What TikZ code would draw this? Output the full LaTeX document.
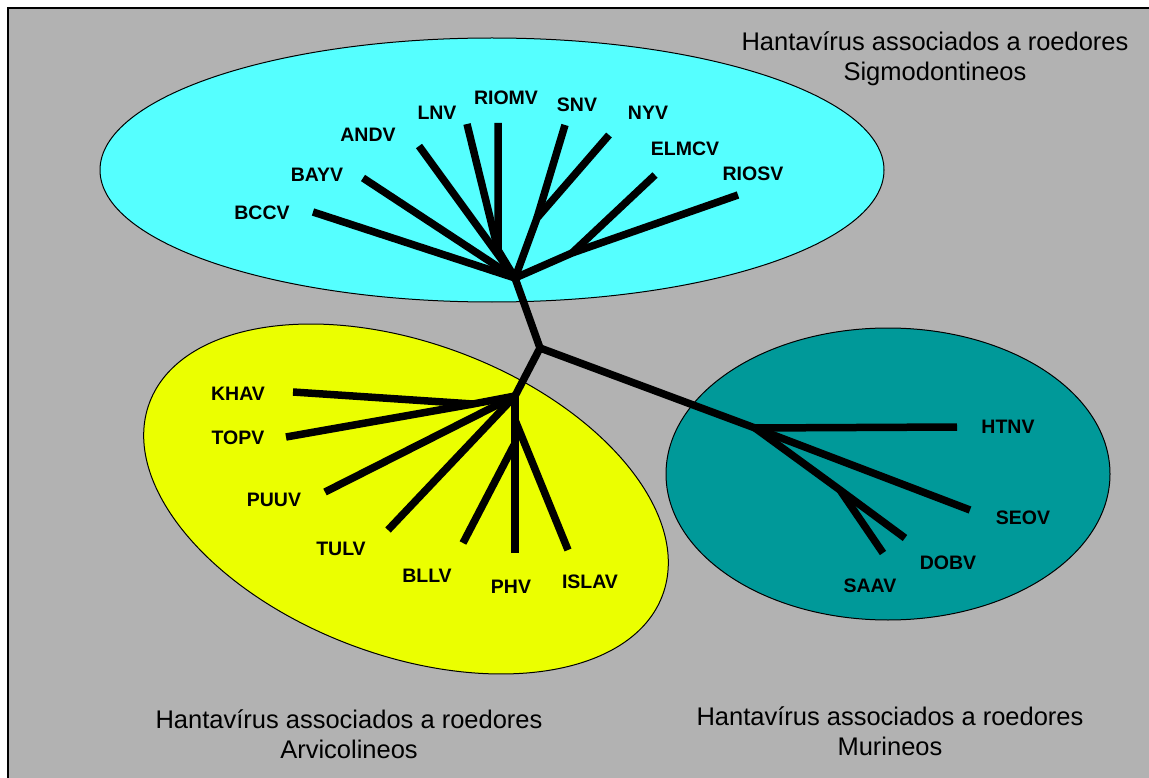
\documentclass[tikz,border=0pt]{standalone}
\usepackage{fontspec}
\setmainfont{Liberation Sans}
\definecolor{bggray}{RGB}{178,178,178}
\definecolor{cyanfill}{RGB}{85,255,255}
\definecolor{yellowfill}{RGB}{235,255,0}
\definecolor{tealfill}{RGB}{0,153,153}
\tikzset{
  branch/.style={line width=7.5pt, line join=round, line cap=butt},
  blob/.style={draw=black, line width=1pt},
  leaflabel/.style={font=\fontsize{19.5}{22}\selectfont\bfseries, inner sep=0pt},
  grouptitle/.style={font=\fontsize{25.5}{30}\selectfont, align=center, inner sep=0pt}
}
\begin{document}
\begin{tikzpicture}[x=1pt,y=-1pt]
\useasboundingbox (0,0) rectangle (1149,778);
\fill[white] (0,0) rectangle (1149,778);
\fill[bggray] (8,8) rectangle (1170,800);
\draw[line width=2.5pt] (8,800) -- (8,8) -- (1170,8);

% ellipses
\draw[blob, fill=cyanfill] (492,170) ellipse [x radius=392, y radius=132];
\draw[blob, fill=yellowfill, rotate around={-20.6:(406,499)}] (406,499) ellipse [x radius=274, y radius=156];
\draw[blob, fill=tealfill] (888,474) ellipse [x radius=222, y radius=146];

% backbone
\coordinate (root) at (540,348);
\coordinate (chub) at (515,278);
\coordinate (yhub) at (515,396);
\coordinate (thub) at (755,428);
\draw[branch] (chub) -- (root) -- (yhub);
\draw[branch] (root) -- (thub);

% cyan clade
\coordinate (BCCVe) at (313,212);
\coordinate (BAYVe) at (363,178);
\coordinate (ANDVe) at (419,146);
\coordinate (LNVe) at (467,124);
\coordinate (RIOMVe) at (498,123);
\coordinate (SNVe) at (565,125);
\coordinate (NYVe) at (609,135);
\coordinate (ELMCVe) at (655,175);
\coordinate (RIOSVe) at (738,195);
\coordinate (cLR) at (498,250);
\coordinate (cSN) at (537,218);
\coordinate (cER) at (572,253);
\draw[branch] (BCCVe) -- (chub);
\draw[branch] (BAYVe) -- (chub);
\draw[branch] (ANDVe) -- (chub);
\draw[branch] (LNVe) -- (cLR);
\draw[branch] (RIOMVe) -- (cLR) -- (chub);
\draw[branch] (SNVe) -- (cSN);
\draw[branch] (NYVe) -- (cSN) -- (chub);
\draw[branch] (ELMCVe) -- (cER);
\draw[branch] (RIOSVe) -- (cER) -- (chub);

\node[leaflabel] (BCCV) at (262,213) {BCCV};
\node[leaflabel] (BAYV) at (317,175) {BAYV};
\node[leaflabel] (ANDV) at (368,135) {ANDV};
\node[leaflabel] (LNV) at (437,113) {LNV};
\node[leaflabel] (RIOMV) at (506,98) {RIOMV};
\node[leaflabel] (SNV) at (577,105) {SNV};
\node[leaflabel] (NYV) at (648,113) {NYV};
\node[leaflabel] (ELMCV) at (685,149) {ELMCV};
\node[leaflabel] (RIOSV) at (753,174) {RIOSV};

% yellow clade
\coordinate (KHAVe) at (293,392);
\coordinate (TOPVe) at (286,437);
\coordinate (PUUVe) at (325,492);
\coordinate (TULVe) at (388,530);
\coordinate (BLLVe) at (463,543);
\coordinate (PHVe) at (515,553);
\coordinate (ISLAVe) at (568,550);
\coordinate (yKT) at (473,404);
\coordinate (yPH) at (515,420);
\coordinate (yBL) at (514,445);
\draw[branch] (KHAVe) -- (yKT);
\draw[branch] (TOPVe) -- (yKT) -- (yhub);
\draw[branch] (PUUVe) -- (yhub);
\draw[branch] (TULVe) -- (yhub);
\draw[branch] (BLLVe) -- (yBL);
\draw[branch] (PHVe) -- (yhub);
\draw[branch] (ISLAVe) -- (yPH);

\node[leaflabel] (KHAV) at (238,394) {KHAV};
\node[leaflabel] (TOPV) at (238,438) {TOPV};
\node[leaflabel] (PUUV) at (274,500) {PUUV};
\node[leaflabel] (TULV) at (341,549) {TULV};
\node[leaflabel] (BLLV) at (427,576) {BLLV};
\node[leaflabel] (PHV) at (511,587) {PHV};
\node[leaflabel] (ISLAV) at (590,582) {ISLAV};

% teal clade
\coordinate (HTNVe) at (957,427);
\coordinate (SEOVe) at (970,510);
\coordinate (DOBVe) at (905,538);
\coordinate (SAAVe) at (883,553);
\coordinate (tSD) at (840,490);
\draw[branch] (thub) -- (HTNVe);
\draw[branch] (thub) -- (SEOVe);
\draw[branch] (thub) -- (tSD) -- (DOBVe);
\draw[branch] (tSD) -- (SAAVe);

\node[leaflabel] (HTNV) at (1008,427) {HTNV};
\node[leaflabel] (SEOV) at (1023,518) {SEOV};
\node[leaflabel] (DOBV) at (948,563) {DOBV};
\node[leaflabel] (SAAV) at (870,586) {SAAV};

% titles
\node[grouptitle] (tSig) at (935,59) {Hantavírus associados a roedores\\Sigmodontineos};
\node[grouptitle] (tArv) at (349,734) {Hantavírus associados a roedores\\Arvicolineos};
\node[grouptitle] (tMur) at (890,731) {Hantavírus associados a roedores\\Murineos};
\end{tikzpicture}
\end{document}
